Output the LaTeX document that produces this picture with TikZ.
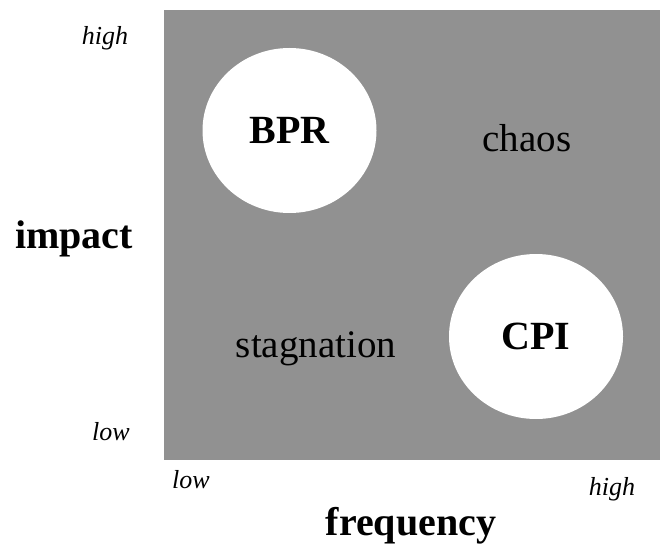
\documentclass[tikz,border=0pt]{standalone}
\usepackage{fontspec}
\setmainfont{Liberation Serif}
\usepackage{xcolor}
\usetikzlibrary{shapes.geometric}
\definecolor{fieldgray}{RGB}{145,145,145}

\begin{document}
\begin{tikzpicture}[x=1pt,y=-1pt,
  approach/.style={ellipse,fill=white,minimum width=174pt,minimum height=165pt,inner sep=0pt,font=\fontsize{40}{44}\selectfont\bfseries},
  zone/.style={anchor=base,font=\fontsize{39}{44}\selectfont},
  axisname/.style={anchor=base,font=\fontsize{40}{44}\selectfont\bfseries},
  level/.style={anchor=base,font=\fontsize{26}{30}\selectfont\itshape}]
\useasboundingbox (0,0) rectangle (661,548);
\fill[fieldgray] (164,10) rectangle (660,460);
\node[approach] (bpr) at (289.5,130.5) {BPR};
\node[approach] (cpi) at (536,336.5) {CPI};
\node[zone] (chaos) at (527,152) {chaos};
\node[zone] (stag) at (316,357) {stagnation};
\node[axisname] (impact) at (74,248) {impact};
\node[axisname] (freq) at (411,535) {frequency};
\node[level] (yhigh) at (105,45) {high};
\node[level] (ylow) at (111,440) {low};
\node[level] (xlow) at (191,488) {low};
\node[level] (xhigh) at (612,495) {high};
\end{tikzpicture}
\end{document}
